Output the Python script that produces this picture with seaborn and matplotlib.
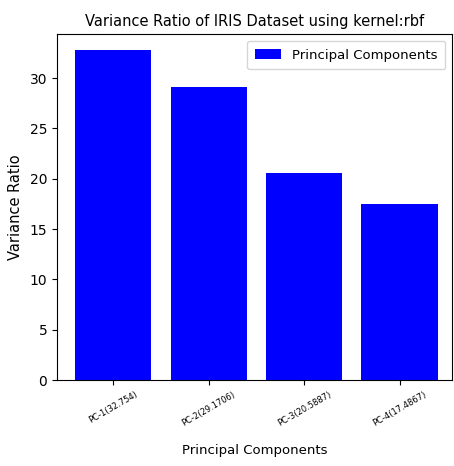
import matplotlib
matplotlib.use("Agg")
import matplotlib.pyplot as plt
import seaborn as sns

components = ["PC-1(32.754)", "PC-2(29.1706)", "PC-3(20.5887)", "PC-4(17.4867)"]
ratios = [32.754, 29.1706, 20.5887, 17.4867]

plt.rcParams['font.family'] = ['DejaVu Sans']

fig, ax = plt.subplots(figsize=(4.54, 4.66), dpi=100)
fig.subplots_adjust(left=0.1256, right=0.9956, top=0.927, bottom=0.1845)

sns.barplot(x=components, y=ratios, color="blue", saturation=1,
            label="Principal Components", ax=ax)
ax.set_xlim(-0.59, 3.55)
ax.set_ylim(0, 34.39)
ax.set_title("Variance Ratio of IRIS Dataset using kernel:rbf", fontsize=10.5)
ax.set_xlabel("Principal Components", fontsize=9.5, labelpad=12)
ax.set_ylabel("Variance Ratio", fontsize=10.5, labelpad=5)
plt.xticks(rotation=30, fontsize=6)
plt.yticks(fontsize=10)
ax.legend(loc="upper right", fontsize=9.5, borderpad=0.6)

fig.savefig("out.png", dpi=100)
